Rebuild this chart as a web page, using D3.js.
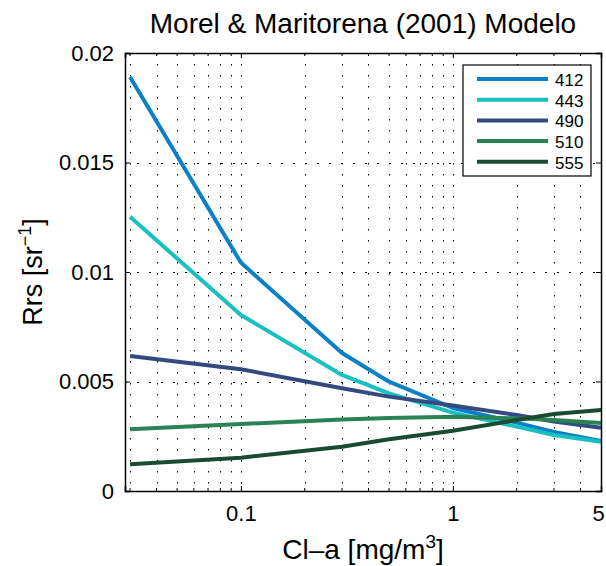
<!DOCTYPE html>
<html lang="en">
<head>
<meta charset="UTF-8">
<title>Morel & Maritorena (2001) Modelo</title>
<script src="https://d3js.org/d3.v7.min.js"></script>
<style>
  body { margin: 0; background: #fff; }
  svg text { font-family: 'Liberation Sans', Arial, sans-serif; fill: #000; }
</style>
</head>
<body>
<div id="chart"></div>
<script>
// chlorophyll concentrations (mg/m3) where the model was evaluated
const chl = [0.03, 0.1, 0.3, 0.5, 1, 2, 3, 5];
const bands = ["412", "443", "490", "510", "555"];
const rrs412 = [0.0189, 0.01043, 0.0063, 0.00499, 0.00379, 0.00312, 0.0027, 0.00228];
const rrs443 = [0.01252, 0.00804, 0.0053, 0.00446, 0.00358, 0.00294, 0.00256, 0.00225];
const rrs490 = [0.00616, 0.00556, 0.00469, 0.00431, 0.0039, 0.00347, 0.00317, 0.00289];
const rrs510 = [0.00282, 0.00306, 0.00327, 0.00333, 0.00339, 0.00332, 0.00324, 0.0031];
const rrs555 = [0.00122, 0.00152, 0.00202, 0.00236, 0.00275, 0.00324, 0.00352, 0.0037];
const colors = ["#0b80c6", "#18c0c0", "#344a7e", "#2a8357", "#1a4b32"];
const yTicks = [0, 0.005, 0.01, 0.015, 0.02];
const xTicks = [0.1, 1, 5];

const series = [rrs412, rrs443, rrs490, rrs510, rrs555];

const width = 606, height = 566;
const margin = { top: 53, right: 5, bottom: 75, left: 125 };

const svg = d3.select("#chart").append("svg")
  .attr("width", width)
  .attr("height", height);

const x = d3.scaleLog()
  .domain([0.0284, 5])
  .range([margin.left, width - margin.right]);

const y = d3.scaleLinear()
  .domain([0, 0.02])
  .range([height - margin.bottom, margin.top]);

// minor x grid: every integer multiple in each decade
const minor = [];
[0.01, 0.1, 1].forEach(dec => {
  for (let k = 1; k <= 9; k++) {
    const v = +(dec * k).toPrecision(3);
    if (v >= 0.03 && v <= 5) minor.push(v);
  }
});

const grid = svg.append("g").attr("stroke", "#000").attr("stroke-width", 1);

grid.selectAll("line.vx")
  .data(minor)
  .join("line")
  .attr("class", "vx")
  .attr("stroke-dasharray", "1.5,9.5")
  .attr("x1", d => Math.round(x(d)) + 0.5)
  .attr("x2", d => Math.round(x(d)) + 0.5)
  .attr("y1", y(0.02))
  .attr("y2", y(0));

grid.selectAll("line.hy")
  .data(yTicks.slice(1, -1))
  .join("line")
  .attr("class", "hy")
  .attr("stroke-dasharray", "2,10")
  .attr("x1", x.range()[0])
  .attr("x2", x.range()[1])
  .attr("y1", d => Math.round(y(d)) + 0.5)
  .attr("y2", d => Math.round(y(d)) + 0.5);

// data lines
const line = d3.line()
  .x((d, i) => x(chl[i]))
  .y(d => y(d));

svg.append("g")
  .selectAll("path")
  .data(series)
  .join("path")
  .attr("d", line)
  .attr("fill", "none")
  .attr("stroke", (d, i) => colors[i])
  .attr("stroke-width", 4)
  .attr("stroke-linejoin", "round");

// axes box with ticks inside (MATLAB style)
const axBottom = svg.append("g")
  .attr("transform", `translate(0,${y(0)})`)
  .call(d3.axisBottom(x).tickValues(xTicks).tickSize(-5).tickPadding(14).tickFormat(d3.format("~g")));
const axTop = svg.append("g")
  .attr("transform", `translate(0,${y(0.02)})`)
  .call(d3.axisTop(x).tickValues(xTicks).tickSize(-5).tickFormat(""));
const axLeft = svg.append("g")
  .attr("transform", `translate(${x.range()[0]},0)`)
  .call(d3.axisLeft(y).tickValues(yTicks).tickSize(-5).tickPadding(11).tickFormat(d3.format("~g")));
const axRight = svg.append("g")
  .attr("transform", `translate(${x.range()[1]},0)`)
  .call(d3.axisRight(y).tickValues(yTicks).tickSize(-5).tickFormat(""));

[axBottom, axTop, axLeft, axRight].forEach(g => {
  g.select(".domain").attr("stroke", "#000").attr("stroke-width", 1.5);
  g.selectAll(".tick line").attr("stroke", "#000");
  g.selectAll("text").attr("font-size", 22).attr("fill", "#000")
    .attr("font-family", "'Liberation Sans', Arial, sans-serif");
});
// keep the last label ("5") inside the window
axBottom.selectAll(".tick text").filter(d => d === 5).attr("dx", -3);

// minor ticks on bottom and top
[y(0), y(0.02)].forEach((yy, j) => {
  svg.append("g").selectAll("line")
    .data(minor.filter(v => !xTicks.includes(v)))
    .join("line")
    .attr("x1", d => x(d)).attr("x2", d => x(d))
    .attr("y1", yy).attr("y2", j === 0 ? yy - 3 : yy + 3)
    .attr("stroke", "#000");
});

// title
svg.append("text")
  .attr("x", (x.range()[0] + x.range()[1]) / 2)
  .attr("y", 33)
  .attr("text-anchor", "middle")
  .attr("font-size", 28)
  .text("Morel & Maritorena (2001) Modelo");

// x label
const xl = svg.append("text")
  .attr("x", (x.range()[0] + x.range()[1]) / 2)
  .attr("y", 559)
  .attr("text-anchor", "middle")
  .attr("font-size", 28);
xl.append("tspan").text("Cl\u2013a [mg/m");
xl.append("tspan").attr("dy", -11).attr("font-size", 19).text("3");
xl.append("tspan").attr("dy", 11).text("]");

// y label
const yl = svg.append("text")
  .attr("transform", `translate(42,${(y(0) + y(0.02)) / 2}) rotate(-90)`)
  .attr("text-anchor", "middle")
  .attr("font-size", 27);
yl.append("tspan").text("Rrs [sr");
yl.append("tspan").attr("dy", -11).attr("font-size", 18).text("\u22121");
yl.append("tspan").attr("dy", 11).text("]");

// legend
const lg = svg.append("g").attr("transform", "translate(463,65)");
lg.append("rect")
  .attr("width", 128).attr("height", 111)
  .attr("fill", "#fff").attr("stroke", "#000").attr("stroke-width", 1.2);
const item = lg.selectAll("g.item")
  .data(bands)
  .join("g")
  .attr("class", "item")
  .attr("transform", (d, i) => `translate(0,${14 + i * 20.7})`);
item.append("line")
  .attr("x1", 14).attr("x2", 85)
  .attr("stroke", (d, i) => colors[i])
  .attr("stroke-width", 4);
item.append("text")
  .attr("x", 92).attr("y", 7)
  .attr("font-size", 17)
  .text(d => d);
</script>
</body>
</html>
